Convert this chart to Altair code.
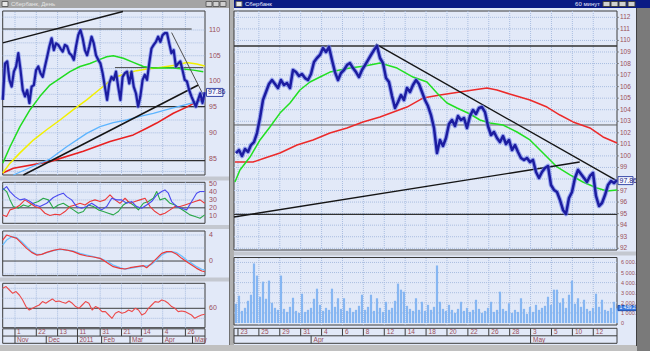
import altair as alt
import pandas as pd
import numpy as np

FONT = "Liberation Sans"
LBL = "#9a4e58"
PANEL = "#e2e9f8"
GRID = "#a9bde0"
BORDER = "#3c3c3c"

# ---------------- data : left (daily) window ----------------
L_PRICE = [96.4, 103.5, 103.9, 100.3, 99.0, 101.9, 102.9, 105.5, 102.2, 98.3,
           97.1, 98.3, 95.8, 99.0, 99.3, 102.2, 102.9, 101.6, 100.9, 102.9,
           104.8, 106.8, 108.4, 106.1, 107.4, 107.1, 106.4, 105.8, 107.1, 106.8,
           105.5, 105.1, 104.2, 106.8, 109.0, 110.0, 108.4, 106.1, 105.1, 106.8,
           108.7, 107.4, 105.1, 104.2, 103.5, 101.6, 99.0, 96.4, 99.6, 100.9,
           100.3, 101.9, 99.0, 96.4, 100.9, 101.6, 101.9, 99.6, 101.9, 99.0,
           97.7, 95.1, 97.1, 100.3, 101.3, 100.3, 103.5, 106.4, 107.1, 107.7,
           108.7, 107.7, 109.0, 109.4, 109.4, 107.4, 105.5, 106.1, 102.9, 103.5,
           103.9, 102.2, 100.3, 100.0, 98.3, 97.1, 96.1, 95.1, 96.4, 97.7,
           95.8, 97.9]
L_GREEN_D = [-8.6, -3.5, 3.5, 10.6, 17.6, 24.6, 31.7, 38.7, 45.8, 52.8, 59.9, 64.6, 69.2, 76.3, 83.3, 90.4, 97.4, 104.4, 111.5, 118.5, 125.6, 132.6]
L_GREEN_V = [84.1, 87.3, 91.2, 94.5, 97.1, 99.3, 100.6, 101.9, 102.9, 103.5, 104.3, 104.8, 105.0, 104.5, 103.7, 102.9, 102.6, 102.6, 102.6, 102.4, 102.2, 101.9]
L_YELLOW_D = [-8.6, -3.5, 3.5, 12.9, 22.3, 31.7, 41.1, 50.5, 57.5, 64.6, 71.6, 78.7, 85.7, 92.7, 99.8, 106.8, 113.9, 120.9, 128.0, 133.6]
L_YELLOW_V = [82.2, 84.1, 86.1, 88.6, 90.6, 92.5, 94.5, 96.4, 98.0, 99.6, 100.9, 101.6, 102.1, 102.4, 102.6, 102.9, 103.2, 103.7, 103.4, 103.0]
L_LBLUE_D = [-1.2, 12.9, 24.6, 36.4, 50.5, 59.9, 69.2, 78.7, 88.0, 97.4, 106.8, 116.2, 125.6, 133.6]
L_LBLUE_V = [81.8, 83.5, 84.9, 87.3, 89.9, 91.2, 92.0, 92.5, 93.2, 93.8, 94.5, 95.2, 95.9, 96.2]
L_RED_D = [-8.6, -1.2, 24.6, 48.1, 66.9, 83.3, 92.7, 99.8, 111.5, 120.9, 130.3, 133.6]
L_RED_V = [82.2, 83.1, 84.4, 86.4, 88.3, 89.6, 90.9, 91.9, 93.8, 95.0, 96.4, 96.6]

IND1_BLUE_D = [-8.7, -5.9, -3.5, 0.0, 3.5, 7.0, 10.6, 14.1, 17.6, 22.3, 27.0, 30.5, 34.0, 36.4, 39.9, 43.4, 46.9, 50.5, 54.0, 57.5, 61.0, 64.6, 68.1, 71.6, 75.1, 78.6, 82.2, 85.7, 89.2, 92.7, 96.2, 99.8, 103.3, 105.6, 108.0, 110.3, 113.9, 117.4, 120.9, 124.4, 127.9, 130.3, 133.6]
IND1_BLUE_V = [42.8, 47.0, 40.7, 34.3, 30.1, 31.4, 28.0, 23.7, 21.6, 25.8, 33.1, 36.4, 38.6, 34.3, 30.1, 21.6, 19.5, 21.6, 25.8, 21.6, 17.4, 21.6, 32.2, 30.1, 30.1, 25.8, 28.0, 21.6, 19.5, 23.7, 28.0, 36.4, 40.7, 42.8, 38.6, 28.0, 21.6, 19.5, 17.4, 28.0, 38.6, 40.7, 40.7]
IND1_GREEN_D = [-8.7, -5.9, -3.5, -1.2, 2.3, 5.9, 9.4, 12.9, 16.4, 19.9, 23.5, 27.0, 30.5, 34.0, 37.6, 41.1, 44.6, 48.1, 51.6, 55.2, 58.7, 62.2, 65.7, 69.2, 72.8, 76.3, 79.8, 83.3, 86.9, 90.4, 93.9, 97.4, 99.8, 102.1, 105.6, 109.2, 112.7, 116.2, 119.7, 123.2, 126.8, 130.3, 133.6]
IND1_GREEN_V = [44.9, 40.7, 30.1, 21.6, 19.5, 23.7, 21.6, 25.8, 28.0, 32.2, 30.1, 19.5, 23.7, 25.8, 21.6, 17.4, 13.1, 15.3, 23.7, 21.6, 17.4, 15.3, 13.1, 11.0, 15.3, 23.7, 28.0, 23.7, 17.4, 25.8, 28.0, 32.2, 40.7, 30.1, 32.2, 25.8, 23.7, 19.5, 15.3, 11.0, 8.9, 6.8, 11.0]
IND1_RED_D = [-8.7, -5.9, -3.5, 0.0, 3.5, 7.0, 10.6, 14.1, 17.6, 21.1, 24.6, 28.2, 31.7, 35.2, 38.7, 42.3, 45.8, 49.3, 52.8, 56.3, 59.9, 63.4, 66.9, 70.4, 73.9, 77.5, 81.0, 84.5, 88.0, 91.6, 95.1, 98.6, 102.1, 105.6, 109.2, 112.7, 116.2, 119.7, 123.2, 126.8, 130.3, 133.6]
IND1_RED_V = [11.0, 8.9, 17.4, 19.5, 23.7, 30.1, 25.8, 21.6, 19.5, 13.1, 10.2, 11.9, 11.0, 15.3, 21.6, 23.7, 25.8, 23.7, 28.0, 30.1, 28.0, 30.1, 36.4, 30.1, 25.8, 32.2, 25.8, 28.0, 30.1, 32.2, 21.6, 15.3, 11.0, 13.1, 17.4, 21.6, 21.6, 23.7, 25.8, 28.0, 30.1, 25.8]

IND2_D = [-8.7, -5.9, -2.3, 1.2, 4.7, 8.2, 11.7, 15.3, 18.8, 22.3, 27.0, 31.7, 36.4, 41.1, 45.8, 50.5, 55.2, 59.9, 64.6, 69.2, 73.9, 77.5, 81.0, 85.7, 90.4, 92.7, 96.2, 99.8, 103.3, 106.8, 110.3, 113.9, 117.4, 120.9, 124.4, 127.9, 131.5, 133.6]
IND2_RED = [3.23, 4.0, 3.74, 3.49, 2.72, 1.95, 1.33, 0.92, 1.03, 1.33, 1.64, 1.85, 1.69, 1.44, 1.03, 0.77, 0.62, 0.41, -0.21, -0.87, -1.13, -1.23, -1.03, -0.87, -0.72, -1.03, -0.36, 0.41, 1.18, 1.44, 1.44, 1.03, 0.41, -0.10, -0.62, -1.13, -1.54, -1.64]
IND2_BLUE = [2.46, 3.23, 3.74, 3.59, 2.97, 2.21, 1.44, 1.03, 1.03, 1.28, 1.59, 1.79, 1.69, 1.54, 1.18, 0.92, 0.67, 0.41, 0.0, -0.62, -1.03, -1.23, -1.13, -0.92, -0.77, -0.77, -0.51, 0.15, 0.92, 1.33, 1.44, 1.28, 0.77, 0.15, -0.36, -0.87, -1.28, -1.38]

IND3_RED = [80, 81.7, 78.3, 75, 76.7, 73.3, 68.3, 61.7, 58.3, 60, 61.7, 63.3, 66.7, 65, 67.3, 69.3,
            66.7, 67.3, 66, 65, 67.3, 65, 61.7, 60, 63.3, 66.7, 65, 58.3, 61.7, 60, 56.7, 56.7,
            53.3, 50, 55, 56.7, 55, 56, 58.3, 56.7, 60, 58.3, 53.3, 55, 60, 63.3, 66.7, 66, 68.3,
            67.3, 65, 61.7, 60, 56.7, 57.3, 56.7, 55, 53.3, 50, 51.7, 53.3, 54]

L_TOP_DAYS = [0, 15, 30, 44, 60, 75, 89, 104, 120]
L_TOP_LBL = ["1", "22", "13", "11", "31", "21", "14", "4", "26"]
L_MON_DAYS = [0, 22, 44, 61, 81, 104, 125]
L_MON_LBL = ["Nov", "Dec", "2011", "Feb", "Mar", "Apr", "May"]
L_PRICE_TICKS = [85, 90, 95, 100, 105, 110]

# ---------------- data : right (60 min) window ----------------
R_PRICE = [100.25, 100.51, 99.99, 100.6, 100.34, 100.94, 101.2, 101.98, 103.28, 104.84,
           105.53, 106.23, 106.57, 106.23, 105.88, 106.57, 106.14, 106.31, 105.88, 107.44,
           107.26, 106.92, 107.09, 106.74, 106.57, 107.09, 108.13, 108.48, 108.74, 109.34,
           109.0, 109.43, 108.3, 107.26, 106.57, 107.18, 107.44, 107.87, 108.04, 107.61,
           107.26, 106.83, 107.44, 107.87, 108.3, 108.74, 109.17, 109.52, 108.48, 108.04,
           106.74, 106.4, 105.19, 104.15, 104.67, 105.27, 104.84, 105.88, 105.53, 106.14,
           106.57, 106.23, 105.53, 104.84, 104.32, 103.54, 102.42, 100.25, 101.38, 100.86,
           101.55, 102.76, 103.11, 102.59, 103.45, 103.11, 103.28, 102.42, 103.45, 103.97,
           103.63, 104.15, 104.23, 103.8, 102.59, 101.81, 102.07, 101.55, 101.2, 101.72,
           101.03, 101.38, 100.51, 100.94, 100.34, 99.82, 99.65, 99.82, 99.47, 99.65,
           98.61, 98.09, 98.61, 98.95, 99.13, 97.48, 97.05, 96.87, 96.18, 95.32,
           94.97, 96.35, 96.87, 98.09, 98.78, 98.43, 98.09, 97.74, 98.26, 98.52,
           96.53, 95.66, 95.92, 96.61, 97.48, 97.83, 97.65, 97.91]
R_VOLUME = [1900, 2700, 1200, 1500, 2200, 2800, 5900, 4700, 2600, 4100, 2400, 4200, 2000, 1500, 1300, 4700,
            1400, 1100, 1600, 2500, 1200, 1000, 2900, 1100, 1300, 1500, 2400, 3400, 1800, 1200, 1500, 1300,
            3400, 1600, 2450, 1400, 2450, 1200, 1500, 1100, 1300, 1700, 2800, 1300, 1600, 2800, 1200, 2450,
            1500, 1100, 2100, 1300, 1500, 2200, 3900, 3300, 3100, 1700, 1400, 1200, 2450, 1300, 2100, 1200,
            1800, 1300, 1600, 5700, 2100, 1400, 1200, 1800, 1300, 1000, 1400, 2100, 1200, 1500, 1100, 1300,
            2300, 1400, 1000, 1200, 1500, 2100, 1100, 1300, 3100, 1400, 1200, 1950, 1000, 1300, 1100, 2450,
            1400, 900, 1600, 1100, 1800, 1300, 1500, 1700, 2600, 1800, 3300, 3300, 2000, 2450, 1500, 2800,
            4200, 1900, 2450, 1600, 2300, 1400, 1200, 1500, 2900, 1600, 2300, 1300, 1200, 1500, 2100, 1450]
R_GREEN_D = [-0.29, 0.19, 1.15, 2.11, 3.06, 4.02, 4.98, 5.93, 6.89, 7.85, 8.80, 10.72, 12.15, 13.59, 15.22, 16.75, 18.09, 19.04, 20.0, 20.96, 22.2, 23.16, 24.11, 25.36, 26.7, 27.94, 29.19, 30.53, 31.77, 33.01, 34.35, 35.31, 36.27]
R_GREEN_V = [97.74, 98.78, 99.9, 101.38, 102.5, 103.71, 104.58, 105.71, 106.4, 106.83, 107.26, 107.61, 107.78, 108.04, 107.61, 106.83, 106.4, 105.45, 104.58, 104.15, 103.63, 103.11, 102.85, 102.68, 102.07, 101.38, 100.25, 99.04, 98.35, 97.74, 97.22, 96.96, 97.05]
R_RED_D = [-0.29, 1.44, 2.58, 4.02, 5.65, 7.18, 8.80, 10.43, 11.96, 13.59, 16.17, 17.70, 19.33, 21.24, 22.49, 23.83, 24.78, 26.32, 27.94, 29.57, 30.81, 32.06, 33.68, 34.93, 36.27]
R_RED_V = [99.47, 99.47, 99.82, 100.25, 100.94, 101.38, 101.98, 102.42, 102.94, 103.37, 104.23, 105.01, 105.27, 105.53, 105.71, 105.88, 105.71, 105.27, 104.84, 104.23, 103.54, 102.94, 102.42, 101.64, 101.12]
R_TOP_DAYS = [0, 2, 4, 6, 8, 10, 12, 14, 16, 18, 20, 22, 24, 26, 28, 30, 32, 34]
R_TOP_LBL = ["23", "25", "29", "31", "4", "6", "8", "12", "14", "18", "20", "22", "26", "28", "3", "5", "10", "12"]
R_MON_DAYS = [7, 28]
R_MON_LBL = ["Apr", "May"]
R_PRICE_TICKS = list(range(92, 113))
R_PRICE_LBL_VALUES = [v for v in R_PRICE_TICKS if v != 98]   # 98 sits under the last-price tag
R_VOL_TICKS = [0, 1000, 2000, 3000, 4000, 5000, 6000]
R_VOL_LBL = ["0", "1 000.00", "2 000.00", "3 000.00", "4 000.00", "5 000.00", "6 000.00"]
LAST_PRICE = 97.86
LAST_VOL = 1480

# ---------------- panel geometry (scale domains and ranges) ----------------
LXD, LXR = [-8.66, 133.8], [2.7, 205]
RXD, RXR = [-0.38, 36.27], [234, 617]
P = {
    "lp": (LXD, LXR, [81.8, 113.7], [175, 11]),
    "l1": (LXD, LXR, [0.3, 52.5], [223.3, 182.3]),
    "l2": (LXD, LXR, [-2.26, 4.62], [275.7, 231]),
    "l3": (LXD, LXR, [40.6, 85], [327.7, 283.3]),
    "ls": (LXD, LXR, [0, 2], [343.3, 328.8]),
    "rp": (RXD, RXR, [91.85, 112.55], [250, 11]),
    "rv": (RXD, RXR, [-200, 6490], [325, 257.5]),
    "rs": (RXD, RXR, [0, 2], [343.3, 328.3]),
}
layers = []
DUMMY = pd.DataFrame({"a": [0]})


def ex(f, p):
    return alt.X(f"{f}:Q", scale=alt.Scale(domain=P[p][0], range=P[p][1], nice=False, zero=False), axis=None)


def ey(f, p):
    return alt.Y(f"{f}:Q", scale=alt.Scale(domain=P[p][2], range=P[p][3], nice=False, zero=False), axis=None)


def px_per_unit_y(p):
    d, r = P[p][2], P[p][3]
    return abs(r[0] - r[1]) / (d[1] - d[0])


def px_per_unit_x(p):
    d, r = P[p][0], P[p][1]
    return abs(r[1] - r[0]) / (d[1] - d[0])


def chrome(x, x2, y, y2, fill, stroke=None):
    kw = dict(fill=fill)
    if stroke:
        kw.update(stroke=stroke, strokeWidth=1)
    layers.append(alt.Chart(DUMMY).mark_rect(**kw).encode(
        x=alt.value(x), x2=alt.value(x2), y=alt.value(y), y2=alt.value(y2)))


def chrome_text(x, y, text, color, size=7, align="left", weight="normal"):
    layers.append(alt.Chart(DUMMY).mark_text(text=text, color=color, fontSize=size, font=FONT,
                                             align=align, baseline="middle", fontWeight=weight).encode(
        x=alt.value(x), y=alt.value(y)))


def panel(p, fill=PANEL, stroke=BORDER):
    xd, _, yd, _ = P[p]
    df = pd.DataFrame({"x1": [xd[0]], "x2": [xd[1]], "y1": [yd[0]], "y2": [yd[1]]})
    layers.append(alt.Chart(df).mark_rect(fill=fill, stroke=stroke, strokeWidth=1).encode(
        x=ex("x1", p), x2=alt.X2("x2:Q"), y=ey("y1", p), y2=alt.Y2("y2:Q")))


def segs(p, rows, color, width=1.0, dash=None, opacity=1.0):
    df = pd.DataFrame(rows, columns=["x1", "y1", "x2", "y2"])
    kw = dict(color=color, strokeWidth=width, opacity=opacity)
    if dash:
        kw["strokeDash"] = dash
    layers.append(alt.Chart(df).mark_rule(**kw).encode(
        x=ex("x1", p), x2=alt.X2("x2:Q"), y=ey("y1", p), y2=alt.Y2("y2:Q")))


def hlines(p, vals, color, width=1.0, dash=None, x0=None, x1=None):
    xd = P[p][0]
    a = xd[0] if x0 is None else x0
    b = xd[1] if x1 is None else x1
    segs(p, [(a, v, b, v) for v in vals], color, width, dash)


def vlines(p, days, color, width=1.0, dash=None, y0=None, y1=None):
    yd = P[p][2]
    a = yd[0] if y0 is None else y0
    b = yd[1] if y1 is None else y1
    segs(p, [(d, a, d, b) for d in days], color, width, dash)


def line(p, xs, ys, color, width, opacity=1.0):
    df = pd.DataFrame({"d": xs, "v": ys})
    layers.append(alt.Chart(df).mark_line(color=color, strokeWidth=width, opacity=opacity,
                                          strokeJoin="round").encode(x=ex("d", p), y=ey("v", p)))


def texts(p, xs, ys, labels, color=LBL, size=7, align="left", dx=0, dy=0, weight="normal"):
    df = pd.DataFrame({"d": xs, "v": ys, "t": labels})
    layers.append(alt.Chart(df).mark_text(color=color, fontSize=size, font=FONT, align=align,
                                          baseline="middle", dx=dx, dy=dy, fontWeight=weight).encode(
        x=ex("d", p), y=ey("v", p), text="t:N"))


def tag(p, value, text, x_px0, x_px1, fill, stroke, tcolor, half_px=4, size=7):
    h = half_px / px_per_unit_y(p)
    xd, xr = P[p][0], P[p][1]
    k = px_per_unit_x(p)
    xa = xd[1] + (x_px0 - xr[1]) / k
    xb = xd[1] + (x_px1 - xr[1]) / k
    df = pd.DataFrame({"x1": [xa], "x2": [xb], "lo": [value - h], "hi": [value + h], "v": [value], "t": [text]})
    layers.append(alt.Chart(df).mark_rect(fill=fill, stroke=stroke, strokeWidth=1).encode(
        x=ex("x1", p), x2=alt.X2("x2:Q"), y=ey("lo", p), y2=alt.Y2("hi:Q")))
    layers.append(alt.Chart(df).mark_text(color=tcolor, fontSize=size, font=FONT, align="left",
                                          baseline="middle", dx=1.5).encode(
        x=ex("x1", p), y=ey("v", p), text="t:N"))


# ---------------- window chrome ----------------
chrome(0, 229, 8, 345, PANEL)
chrome(234, 637, 8, 346, PANEL)
chrome(0, 229, 0, 8, "#a4a4a4")
chrome(234, 650, 0, 8, "#0a1a84")
chrome(229, 234, 0, 351, "#b0b0b0")
chrome(229, 230, 0, 351, "#707070")
chrome(0, 637, 345, 351, "#c0c0c0")
# splitters
chrome(0, 229, 176.5, 180.5, "#c4c8d0")
chrome(0, 229, 225, 229, "#c4c8d0")
chrome(0, 229, 277.5, 281.5, "#c4c8d0")
chrome(234, 637, 251.5, 255.5, "#c4c8d0")
# title bar content
chrome(2, 8, 1.5, 6.5, "#e8e8e8", "#606060")
chrome_text(11, 4.3, "Сбербанк, День", "#e4e4e4", size=6)
chrome(206, 212, 1.5, 6.5, "#d0d0d0", "#606060")
chrome(213, 219, 1.5, 6.5, "#d0d0d0", "#606060")
chrome(220, 226, 1.5, 6.5, "#d0d0d0", "#606060")
chrome(236, 242, 1.5, 6.5, "#e8e8e8", "#606060")
chrome_text(245, 4.3, "Сбербанк", "#e8ecff", size=6)
chrome_text(600, 4.3, "60 минут", "#e8ecff", size=6, align="right")
chrome(603, 610, 1.5, 6.5, "#d0d0d0", "#404040")
chrome(611, 618, 1.5, 6.5, "#d0d0d0", "#404040")
chrome(619, 626, 1.5, 6.5, "#d0d0d0", "#404040")
chrome(628, 635, 1.5, 6.5, "#d0d0d0", "#404040")

# ---------------- left window panels ----------------
for p in ["lp", "l1", "l2", "l3", "ls"]:
    panel(p)
for p in ["lp", "l1", "l2", "l3"]:
    vlines(p, L_TOP_DAYS, GRID, 1, [1, 1])
hlines("lp", [82.5 + 2.5 * i for i in range(13)], GRID, 1, [1, 1])
hlines("l1", [10, 30, 40, 50], GRID, 1, [1, 1])
hlines("l2", [-2, 2, 4], GRID, 1, [1, 1])
hlines("l3", [50, 70, 80], GRID, 1, [1, 1])

# left price panel drawing
hlines("lp", [84.6, 95.1], "#303030", 1.2)
hlines("lp", [110.2], "#404040", 1.2, x1=124.4)
hlines("lp", [102.7], "#404040", 0.9, x0=70.4, x1=132.6)
line("lp", L_RED_D, L_RED_V, "#e82020", 1.6)
line("lp", L_LBLUE_D, L_LBLUE_V, "#5cb4ff", 1.3)
line("lp", L_YELLOW_D, L_YELLOW_V, "#f2f000", 1.5)
line("lp", L_GREEN_D, L_GREEN_V, "#20dc20", 1.5)
segs("lp", [(-8.66, 107.5, 76.0, 113.6), (5.9, 81.8, 129.1, 99.3)], "#151515", 1.5)
segs("lp", [(110.3, 109.5, 133.1, 97.1)], "#505050", 1.0)
l_days = list(np.linspace(-8.6, 133.6, len(L_PRICE)))
line("lp", l_days, L_PRICE, "#6f7fe8", 4.0, opacity=0.65)
line("lp", l_days, L_PRICE, "#1c1ca0", 2.2)
texts("lp", [LXD[1]] * len(L_PRICE_TICKS), L_PRICE_TICKS, [str(v) for v in L_PRICE_TICKS], dx=4)
tag("lp", LAST_PRICE, "97.86", 206.5, 223, "#f4f6ff", "#3a4aa8", "#202080")

# indicator 1
hlines("l1", [20], "#404040", 1)
line("l1", IND1_GREEN_D, IND1_GREEN_V, "#2aa84a", 1.1)
line("l1", IND1_RED_D, IND1_RED_V, "#ec3a3a", 1.1)
line("l1", IND1_BLUE_D, IND1_BLUE_V, "#4a4af0", 1.1)
texts("l1", [LXD[1]] * 5, [50, 40, 30, 20, 10], ["50", "40", "30", "20", "10"], dx=4)

# indicator 2
hlines("l2", [0], "#404040", 1)
line("l2", IND2_D, IND2_BLUE, "#6cc0ff", 1.3)
line("l2", IND2_D, IND2_RED, "#ec3a3a", 1.2)
texts("l2", [LXD[1]] * 2, [4, 0], ["4", "0"], dx=4)

# indicator 3
hlines("l3", [60], "#404040", 1)
line("l3", list(np.linspace(-8.6, 133.6, len(IND3_RED))), IND3_RED, "#ec4a4a", 1.1)
texts("l3", [LXD[1]], [60], ["60"], dx=4)

# left date strip
hlines("ls", [1], BORDER, 1)
vlines("ls", L_TOP_DAYS, BORDER, 1, y0=1, y1=2)
vlines("ls", L_MON_DAYS, BORDER, 1, y0=0, y1=1)
texts("ls", L_TOP_DAYS, [1.5] * len(L_TOP_DAYS), L_TOP_LBL, dx=2, size=6.5)
texts("ls", L_MON_DAYS, [0.5] * len(L_MON_DAYS), L_MON_LBL, dx=2, size=6.5)

# ---------------- right window panels ----------------
for p in ["rp", "rv", "rs"]:
    panel(p)
for p in ["rp", "rv"]:
    vlines(p, R_TOP_DAYS, GRID, 1, [1, 1])
hlines("rp", R_PRICE_TICKS, GRID, 1, [1, 1])
hlines("rv", [1000, 2000, 3000, 4000, 5000, 6000], GRID, 1, [1, 1])

r_days = [-0.19 + i * (3 / 10.45) for i in range(len(R_PRICE))]
# volume
vdf = pd.DataFrame({"d": r_days, "v": R_VOLUME, "z": [0] * len(R_VOLUME)})
layers.append(alt.Chart(vdf).mark_rule(color="#86b6f2", strokeWidth=2.2).encode(
    x=ex("d", "rv"), y=ey("v", "rv"), y2=alt.Y2("z:Q")))
texts("rv", [RXD[1]] * len(R_VOL_TICKS), R_VOL_TICKS, R_VOL_LBL, dx=4, size=5.5)
tag("rv", LAST_VOL, "1 439.23", 618, 637, "#3a7ae0", "#2050b0", "#ffffff", half_px=2.6, size=4.8)

# right price panel drawing
hlines("rp", [109.52, 94.93], "#303030", 1.3)
hlines("rp", [102.68], "#606060", 1.0)
line("rp", R_RED_D, R_RED_V, "#ec2a2a", 1.5)
line("rp", R_GREEN_D, R_GREEN_V, "#22e022", 1.5)
segs("rp", [(13.2, 109.69, 36.27, 97.83), (-0.38, 94.71, 32.7, 99.47)], "#151515", 1.4)
line("rp", r_days, R_PRICE, "#6f7fe8", 4.6, opacity=0.65)
line("rp", r_days, R_PRICE, "#1c1ca0", 2.5)
hlines("rp", R_PRICE_TICKS, "#707070", 1, x0=RXD[1], x1=RXD[1] + 0.17)
texts("rp", [RXD[1]] * len(R_PRICE_LBL_VALUES), R_PRICE_LBL_VALUES,
      [str(v) for v in R_PRICE_LBL_VALUES], dx=3, size=6.5)
tag("rp", LAST_PRICE, "97.86", 618, 633, "#f4f6ff", "#3a4aa8", "#202080")

# right date strip
hlines("rs", [1], BORDER, 1)
vlines("rs", R_TOP_DAYS, BORDER, 1, y0=1, y1=2)
vlines("rs", R_MON_DAYS, BORDER, 1, y0=0, y1=1)
texts("rs", R_TOP_DAYS, [1.5] * len(R_TOP_DAYS), R_TOP_LBL, dx=2.5, size=6.5)
texts("rs", R_MON_DAYS, [0.5] * len(R_MON_DAYS), R_MON_LBL, dx=2.5, size=6.5)

# right-edge frame drawn over overflowing labels
chrome(637, 650, 8, 351, "#7a7a7a")
chrome(636, 637, 8, 346, "#404040")

chart = alt.layer(*layers).resolve_scale(x="independent", y="independent").properties(
    width=650, height=351, padding=0, background="#c4c4c4",
    autosize=alt.AutoSizeParams(type="none"),
).configure_view(stroke=None)

chart.save("out.html", embed_options={"renderer": "svg", "actions": False})
